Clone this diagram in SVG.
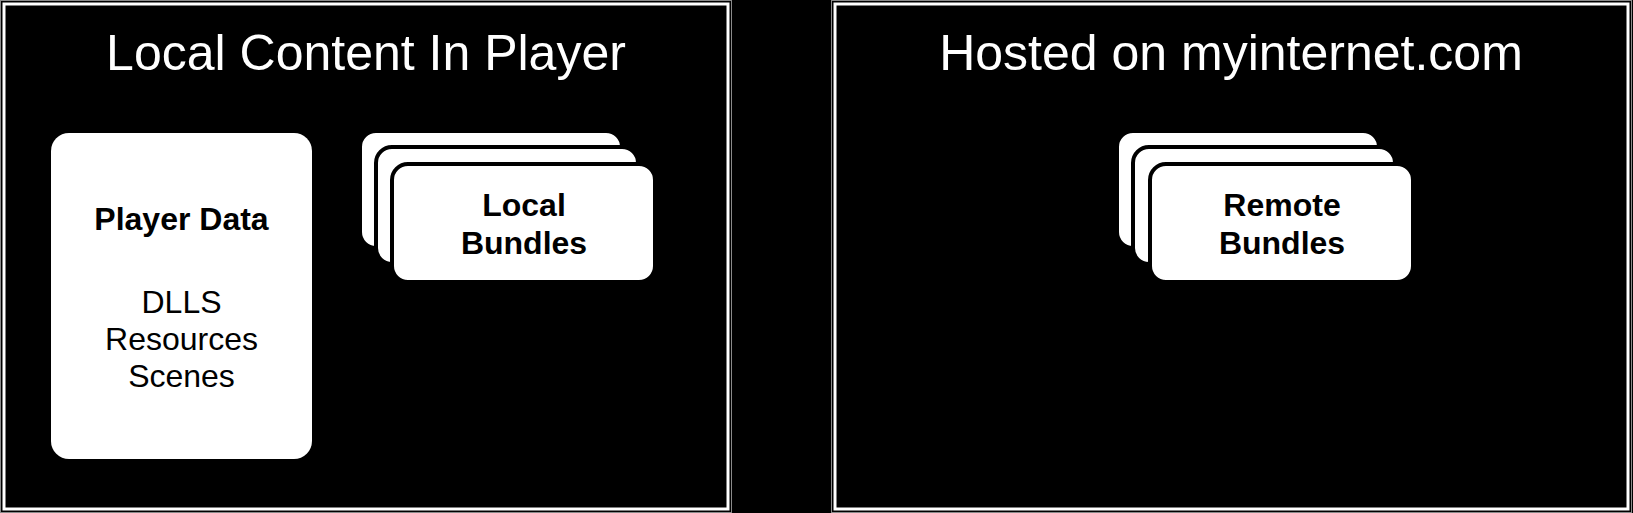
<svg xmlns="http://www.w3.org/2000/svg" width="1633" height="513" viewBox="0 0 1633 513">
<style>
  .panel { fill: #000; stroke: #fff; stroke-width: 3; }
  .frame { fill: none; stroke: #8a8a8a; stroke-width: 1; }
  .title { font-family: "Liberation Sans", Arial, sans-serif; font-size: 50px; fill: #fff; text-anchor: middle; }
  .box { fill: #fff; stroke: none; }
  .card { fill: #fff; stroke: #000; stroke-width: 4; }
  .lbl { font-family: "Liberation Sans", Arial, sans-serif; font-size: 32px; fill: #000; text-anchor: middle; }
  .b { font-weight: bold; }
</style>
<rect x="0" y="0" width="1633" height="513" fill="#000"/>
<g id="panel-local">
  <rect class="frame" x="0.5" y="0.5" width="731" height="512"/>
  <rect class="panel" x="4" y="4" width="724" height="505"/>
  <text class="title" x="366" y="70">Local Content In Player</text>
</g>
<g id="panel-hosted">
  <rect class="frame" x="831.5" y="0.5" width="800" height="512"/>
  <rect class="panel" x="835" y="4" width="793" height="505"/>
  <text class="title" x="1231" y="70">Hosted on myinternet.com</text>
</g>
<g id="player-data">
  <rect class="box" x="51" y="133" width="261" height="326" rx="18" ry="18"/>
  <text class="lbl b" x="181.5" y="230">Player Data</text>
  <text class="lbl" x="181.5" y="313">DLLS</text>
  <text class="lbl" x="181.5" y="350">Resources</text>
  <text class="lbl" x="181.5" y="387">Scenes</text>
</g>
<g id="local-bundles">
  <rect class="card" x="360" y="131" width="262" height="117" rx="16" ry="16"/>
  <rect class="card" x="376" y="147" width="262" height="117" rx="16" ry="16"/>
  <rect class="card" x="392" y="164" width="263" height="118" rx="16" ry="16"/>
  <text class="lbl b" x="524" y="216">Local</text>
  <text class="lbl b" x="524" y="254">Bundles</text>
</g>
<g id="remote-bundles">
  <rect class="card" x="1117" y="131" width="262" height="117" rx="16" ry="16"/>
  <rect class="card" x="1133" y="147" width="262" height="117" rx="16" ry="16"/>
  <rect class="card" x="1150" y="164" width="263" height="118" rx="16" ry="16"/>
  <text class="lbl b" x="1282" y="216">Remote</text>
  <text class="lbl b" x="1282" y="254">Bundles</text>
</g>
<g id="connectors"></g>
</svg>
